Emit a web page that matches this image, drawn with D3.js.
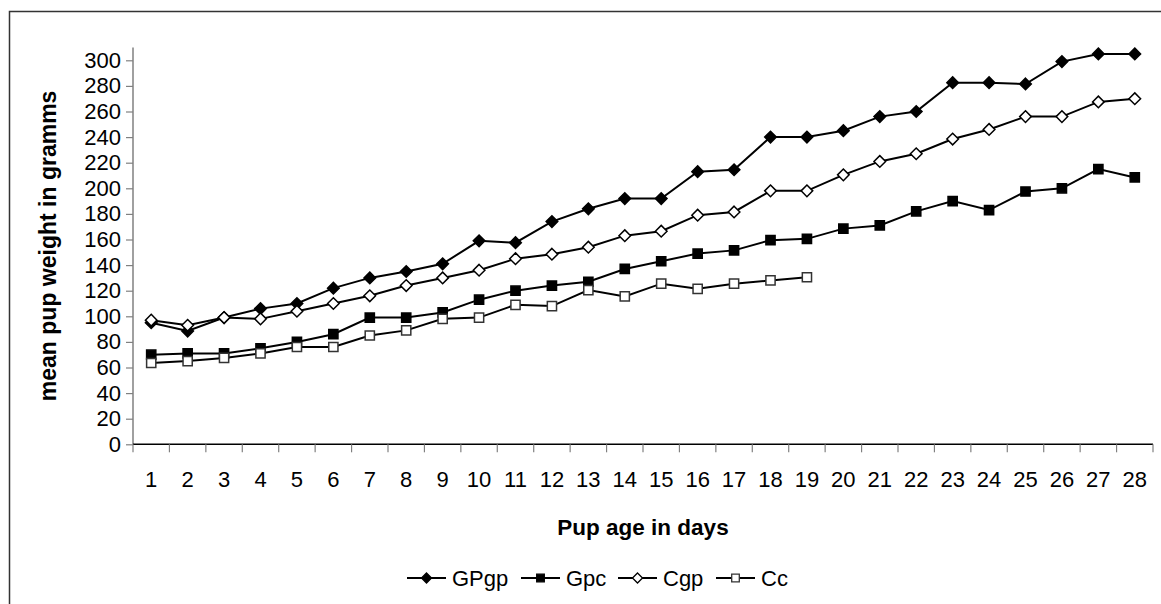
<!DOCTYPE html>
<html>
<head>
<meta charset="utf-8">
<script src="https://cdn.jsdelivr.net/npm/d3@7"></script>
<style>
  body { margin: 0; background: #fff; }
  text { font-family: "Liberation Sans", Arial, sans-serif; }
</style>
</head>
<body>
<div id="chart"></div>
<script>
// Pup weight by age
const days = d3.range(1, 29);
const yTicks = d3.range(0, 301, 20);

const GPgp = [95, 88.5, 99, 106, 110, 122, 130, 135, 141, 159, 157.5, 174, 184, 192, 192, 213, 214.5, 240, 240, 245, 256, 260, 282.5, 282.5, 281.5, 299, 305, 305];
const Gpc  = [70, 71, 71, 75, 80, 86, 99, 99, 103, 113, 120, 124, 127, 137, 143, 149, 151.5, 159.5, 160.5, 168.5, 171, 182, 190, 183, 197.5, 200, 215, 208.5];
const Cgp  = [97, 93, 99, 98, 104, 110, 116, 124, 130, 136, 145, 148.5, 154, 163, 166.5, 179, 181.5, 198, 198, 210.5, 221, 227, 238.5, 246, 256, 256, 267.5, 270];
const Cc   = [63.5, 65, 67.5, 71, 76, 76, 85, 89, 98, 99, 109, 108, 120.5, 115.5, 125.5, 121.5, 125.5, 128, 130.5];

const series = [
  {name: "GPgp", values: GPgp, shape: "diamond", fill: "#000", stroke: "#000"},
  {name: "Gpc",  values: Gpc,  shape: "square",  fill: "#000", stroke: "#000"},
  {name: "Cgp",  values: Cgp,  shape: "diamond", fill: "#fff", stroke: "#000"},
  {name: "Cc",   values: Cc,   shape: "square",  fill: "#fff", stroke: "#333"}
];

const W = 1161, H = 604;
const plot = {left: 133, right: 1153, top: 47.5, bottom: 444.3};

const svg = d3.select("#chart")
    .append("svg")
    .attr("width", W)
    .attr("height", H);

// chart frame (runs off the right and bottom edges)
svg.append("rect")
    .attr("x", 9.5).attr("y", 11.5)
    .attr("width", 1300).attr("height", 800)
    .attr("fill", "none")
    .attr("stroke", "#333")
    .attr("stroke-width", 1.5);

const x = d3.scaleBand()
    .domain(days)
    .range([plot.left, plot.right]);

const y = d3.scaleLinear()
    .domain([0, 310])
    .range([plot.bottom, plot.top]);

// Y axis
const yAxis = svg.append("g")
    .attr("transform", `translate(${plot.left},0)`)
    .call(d3.axisLeft(y).tickValues(yTicks).tickSize(7).tickPadding(5));
yAxis.select(".domain").attr("stroke", "#808080").attr("stroke-width", 1.5)
    .attr("d", `M0,${plot.top}V${plot.bottom}`);
yAxis.selectAll(".tick line").attr("stroke", "#808080").attr("stroke-width", 1.2);
yAxis.selectAll(".tick text")
    .style("font-size", "22px")
    .attr("fill", "#000");

// X axis: labels centred in each band, ticks on band edges
const xAxis = svg.append("g")
    .attr("transform", `translate(0,${plot.bottom})`)
    .call(d3.axisBottom(x).tickSize(0).tickPadding(27));
xAxis.select(".domain").attr("stroke", "#000").attr("stroke-width", 1.5)
    .attr("d", `M${plot.left},0H${plot.right}`);
xAxis.selectAll(".tick text")
    .style("font-size", "22px")
    .attr("fill", "#000");

svg.append("g")
    .selectAll("line")
    .data(days.map(d => x(d)).concat([x(28) + x.bandwidth()]))
    .enter()
    .append("line")
    .attr("x1", d => d).attr("x2", d => d)
    .attr("y1", plot.bottom).attr("y2", plot.bottom + 8)
    .attr("stroke", "#808080")
    .attr("stroke-width", 1.2);

// axis titles
svg.append("text")
    .attr("x", (plot.left + plot.right) / 2)
    .attr("y", 535)
    .attr("text-anchor", "middle")
    .style("font-size", "22.5px")
    .style("font-weight", "bold")
    .text("Pup age in days");

svg.append("text")
    .attr("transform", `translate(56,${(plot.top + plot.bottom) / 2}) rotate(-90)`)
    .attr("text-anchor", "middle")
    .style("font-size", "23px")
    .style("font-weight", "bold")
    .text("mean pup weight in gramms");

// marker shapes
function markerPath(shape, r) {
  if (shape === "diamond") return `M0,${-r}L${r},0L0,${r}L${-r},0Z`;
  return `M${-r},${-r}H${r}V${r}H${-r}Z`;
}

const cx = i => x(days[i]) + x.bandwidth() / 2;

const line = d3.line()
    .x((d, i) => cx(i))
    .y(d => y(d));

series.forEach(s => {
  svg.append("path")
      .datum(s.values)
      .attr("fill", "none")
      .attr("stroke", "#000")
      .attr("stroke-width", 2)
      .attr("d", line);
});

series.forEach(s => {
  svg.append("g")
      .selectAll("path")
      .data(s.values)
      .enter()
      .append("path")
      .attr("transform", (d, i) => `translate(${cx(i)},${y(d)})`)
      .attr("d", markerPath(s.shape, s.shape === "diamond" ? 5.8 : 4.6))
      .attr("fill", s.fill)
      .attr("stroke", s.stroke)
      .attr("stroke-width", 1.5);
});

// legend
const legendX = [407, 521, 618, 716];
const legend = svg.append("g");
series.forEach((s, i) => {
  const g = legend.append("g").attr("transform", `translate(${legendX[i]},578)`);
  g.append("line")
      .attr("x1", 0).attr("x2", 39)
      .attr("stroke", "#000").attr("stroke-width", 2);
  g.append("path")
      .attr("transform", "translate(19.5,0)")
      .attr("d", markerPath(s.shape, s.shape === "diamond" ? 5 : 3.8))
      .attr("fill", s.fill)
      .attr("stroke", s.stroke)
      .attr("stroke-width", 1.3);
  g.append("text")
      .attr("x", 45)
      .attr("dy", "0.35em")
      .style("font-size", "22px")
      .text(s.name);
});
</script>
</body>
</html>
